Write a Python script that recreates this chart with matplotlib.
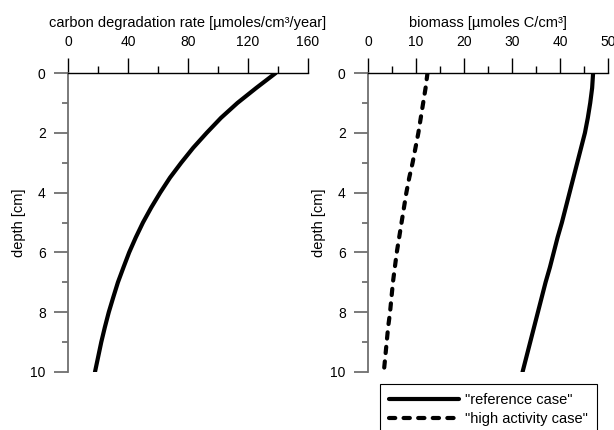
import numpy as np
import matplotlib
matplotlib.use('Agg')
import matplotlib.pyplot as plt
from matplotlib.ticker import MultipleLocator

plt.rcParams['font.family'] = ['Liberation Sans', 'DejaVu Sans']
plt.rcParams['font.size'] = 10

# depth profiles (cm), read every half centimetre
depth = [0, 0.5, 1, 1.5, 2, 2.5, 3, 3.5, 4, 4.5, 5,
         5.5, 6, 6.5, 7, 7.5, 8, 8.5, 9, 9.5, 10]
degradation_rate = [138.5, 125.5, 113, 102, 92.5, 83.5, 75.5, 68, 61.5, 55.5, 50,
                    45.2, 40.8, 37, 33.3, 30.2, 27.2, 24.6, 22.2, 20.1, 18]

biomass_reference = [46.9, 46.7, 46.3, 45.8, 45.2, 44.4, 43.6, 42.8, 42.0, 41.2, 40.4,
                     39.5, 38.7, 37.9, 37.0, 36.2, 35.4, 34.6, 33.8, 33.0, 32.2]
biomass_high = [12.4, 12.0, 11.5, 11.0, 10.5, 9.9, 9.3, 8.6, 8.0, 7.5, 7.0,
                6.5, 6.0, 5.6, 5.2, 4.9, 4.6, 4.2, 3.9, 3.6, 3.3]

GRAY = '#707070'


def style_axes(ax, xmax, xmajor, xminor, xlabel):
    """depth axis pointing down, value axis along the top"""
    ax.set_xlim(0, xmax)
    ax.set_ylim(10, 0)
    ax.xaxis.set_ticks_position('top')
    ax.xaxis.set_label_position('top')
    ax.xaxis.set_major_locator(MultipleLocator(xmajor))
    ax.xaxis.set_minor_locator(MultipleLocator(xminor))
    ax.yaxis.set_major_locator(MultipleLocator(2))
    ax.yaxis.set_minor_locator(MultipleLocator(1))
    for side in ['right', 'bottom']:
        ax.spines[side].set_visible(False)
    ax.spines['top'].set_linewidth(1.0)
    ax.spines['left'].set_color(GRAY)
    ax.spines['left'].set_linewidth(1.3)
    ax.tick_params(axis='x', which='major', length=11, width=1.0, pad=6, labelsize=10)
    ax.tick_params(axis='x', which='minor', length=5, width=1.0)
    ax.tick_params(axis='y', which='major', length=10, width=1.3, color=GRAY,
                   pad=6, labelsize=10)
    ax.tick_params(axis='y', which='minor', length=4.5, width=1.3, color=GRAY)
    ax.set_xlabel(xlabel, fontsize=10.5, labelpad=6)
    ax.set_ylabel('depth [cm]', fontsize=10.5, labelpad=3)
    ax.set_facecolor('none')
    # tick at zero depth joins the top axis line
    ax.yaxis.get_major_ticks()[0].tick1line.set_color('black')


fig = plt.figure(figsize=(6.14, 4.30), dpi=100)
ax1 = fig.add_axes([0.1107, 0.1349, 0.3909, 0.6953])
ax2 = fig.add_axes([0.5993, 0.1349, 0.3909, 0.6953])

ax1.plot(degradation_rate, depth, color='black', lw=3, solid_capstyle='round')
style_axes(ax1, 160, 40, 20, 'carbon degradation rate [µmoles/cm³/year]')

ax2.plot(biomass_reference, depth, color='black', lw=3,
         solid_capstyle='round', label='"reference case"')
ax2.plot(biomass_high, depth, color='black', lw=3,
         linestyle=(0, (1.5, 2.0)), dash_capstyle='round',
         label='"high activity case"')
style_axes(ax2, 50, 10, 5, 'biomass [µmoles C/cm³]')

leg = ax2.legend(loc='upper left', bbox_to_anchor=(0.05, -0.04), fancybox=False,
                 edgecolor='black', framealpha=1, fontsize=10.5,
                 handlelength=4.8, handletextpad=0.45, borderpad=0.6,
                 labelspacing=0.35, borderaxespad=0)
leg.get_frame().set_linewidth(0.8)

fig.savefig('out.png', dpi=100)
